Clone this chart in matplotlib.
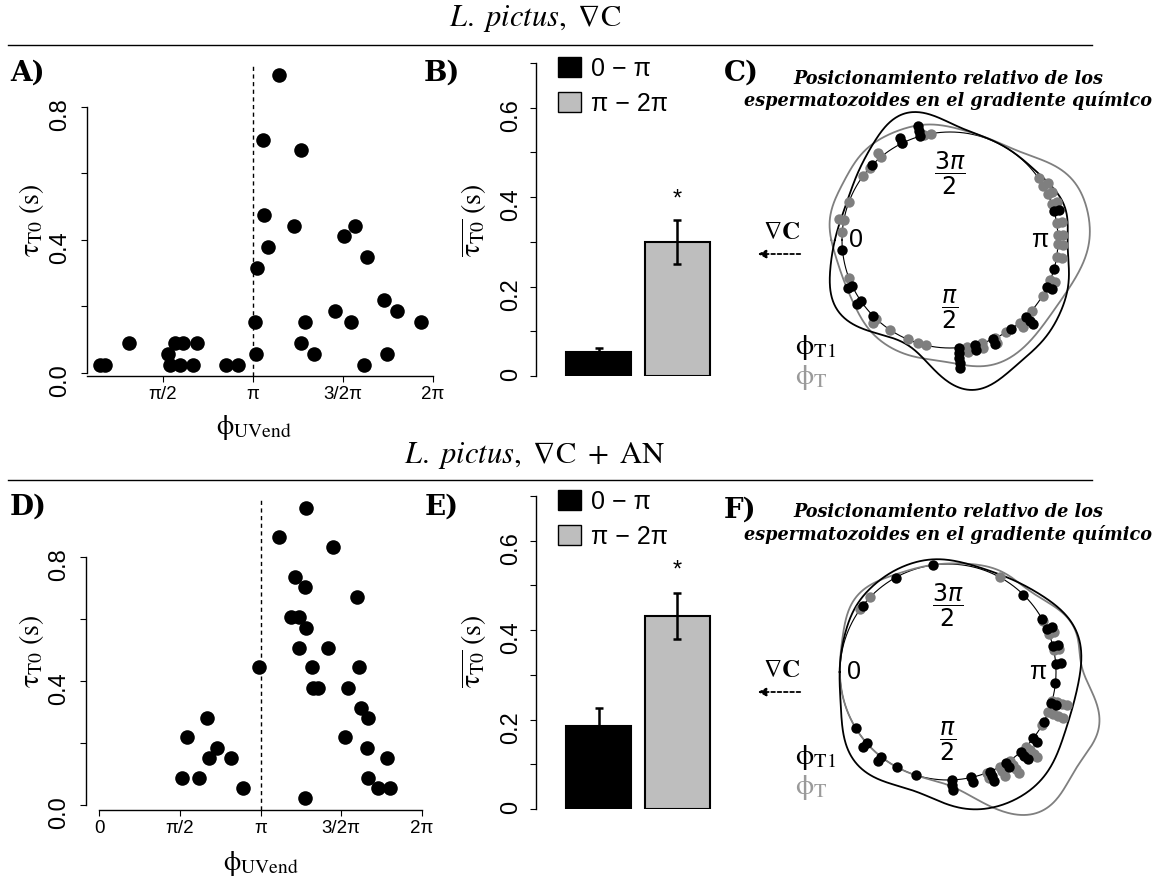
import numpy as np
import matplotlib
matplotlib.use("Agg")
import matplotlib.pyplot as plt
from matplotlib.lines import Line2D
from matplotlib.patches import Patch

plt.rcParams["font.family"] = ["Liberation Sans", "DejaVu Sans"]
plt.rcParams["mathtext.fontset"] = "stix"
plt.rcParams["axes.linewidth"] = 1.0

PI = np.pi

# --- panel A: L. pictus, gradient -------------------------------------
phi_a = [3.594, 3.316, 3.982, 3.327, 3.866, 3.408, 3.217, 4.724, 4.927, 5.130,
         5.420, 5.651, 6.080, 4.573, 4.851, 4.051, 3.976, 4.214, 5.083, 5.477,
         3.176, 3.194, 0.475, 0.551, 0.985, 1.664, 1.692, 1.779, 1.866, 1.924,
         2.087, 2.156, 2.678, 2.881]
tau_a = [0.897, 0.701, 0.671, 0.475, 0.443, 0.380, 0.315, 0.413, 0.443, 0.348,
         0.218, 0.186, 0.154, 0.186, 0.154, 0.154, 0.090, 0.057, 0.025, 0.057,
         0.154, 0.057, 0.025, 0.025, 0.090, 0.057, 0.025, 0.090, 0.025, 0.090,
         0.025, 0.090, 0.025, 0.025]

# --- panel D: L. pictus, gradient + AN ---------------------------------
phi_d = [4.029, 3.509, 4.561, 3.814, 4.009, 5.016, 3.730, 3.899, 4.022, 3.892,
         4.464, 3.119, 4.139, 5.061, 4.171, 4.269, 4.834, 5.094, 5.224, 4.789,
         5.211, 5.601, 5.224, 5.426, 5.653, 4.015, 2.092, 1.702, 2.300, 2.138,
         2.560, 1.624, 1.943, 2.807]
tau_d = [0.958, 0.864, 0.831, 0.735, 0.702, 0.670, 0.605, 0.605, 0.571, 0.508,
         0.508, 0.444, 0.444, 0.444, 0.379, 0.379, 0.379, 0.314, 0.282, 0.218,
         0.185, 0.153, 0.088, 0.056, 0.056, 0.024, 0.282, 0.218, 0.185, 0.153,
         0.153, 0.088, 0.088, 0.056]

# --- bars: mean tau_T0 per half circle -----------------------------------
bar_names = ["0 − π", "π − 2π"]
bar_b = [0.054, 0.300]
err_b = [0.009, 0.050]
bar_e = [0.186, 0.432]
err_e = [0.040, 0.052]

# --- circular panels: angle of each stack and number of stacked points ---
c_t1_ang = [4.99, 5.17, 5.52, 0.09, 0.44, 0.60, 0.78, 1.65, 1.80, 1.98, 2.17,
            2.35, 2.69, 2.87, 3.41]
c_t1_n = [3, 2, 1, 1, 2, 2, 1, 5, 2, 2, 1, 3, 2, 1, 2]
c_t_ang = [4.89, 4.96, 5.17, 5.40, 5.55, 5.65, 5.92, 6.10, 6.21, 0.36, 0.82,
           0.98, 1.17, 1.27, 1.35, 1.73, 1.87, 2.00, 2.12, 2.27, 2.43, 2.60,
           2.76, 2.98, 3.10, 3.19, 3.30, 3.48, 3.58, 3.67, 3.75]
c_t_n = [1, 1, 1, 2, 1, 1, 1, 2, 1, 1, 2, 1, 1, 1, 1, 2, 2, 2, 1, 2, 1, 1, 2,
         2, 2, 2, 2, 2, 2, 2, 1]

f_t1_ang = [4.85, 5.22, 5.62, 0.55, 0.72, 0.90, 1.08, 1.27, 1.61, 1.79, 1.97,
            2.14, 2.31, 2.48, 2.66, 2.85, 3.04, 3.22, 3.38, 3.55, 3.65, 3.94]
f_t1_n = [1, 1, 1, 1, 2, 2, 1, 1, 3, 2, 3, 2, 3, 2, 1, 2, 1, 2, 2, 2, 1, 1]
f_t_ang = [4.21, 5.52, 5.66, 3.63, 3.50, 3.35, 2.87, 2.76, 2.63, 2.38, 2.18,
           2.07, 1.94]
f_t_n = [1, 1, 1, 1, 2, 2, 4, 4, 1, 4, 4, 3, 2]

W, H = 1167, 882
GREY = "#7f7f7f"
fig = plt.figure(figsize=(W / 100, H / 100), dpi=100)


def px_rect(x0, y0, x1, y1):
    # pixel box (origin top-left) -> figure fraction rect
    return [x0 / W, 1 - y1 / H, (x1 - x0) / W, (y1 - y0) / H]


def ftext(x, y, s, **kw):
    fig.text(x / W, 1 - y / H, s, **kw)


def scatter_panel(box, phi, tau, xlim, ylim, xticks, xlabels):
    ax = fig.add_axes(px_rect(*box))
    ax.scatter(phi, tau, s=110, color="black", lw=0, zorder=3, clip_on=False)
    ax.axvline(PI, color="black", lw=1, ls=(0, (3, 2.5)))
    ax.set_xlim(xlim)
    ax.set_ylim(ylim)
    for s in ["top", "right"]:
        ax.spines[s].set_visible(False)
    ax.spines["left"].set_bounds(0, 0.8)
    ax.spines["bottom"].set_bounds(max(0, xlim[0]), 2 * PI)
    ax.set_yticks([0, 0.2, 0.4, 0.6, 0.8], ["0.0", "", "0.4", "", "0.8"],
                  rotation=90, fontsize=17)
    ax.set_xticks(xticks, xlabels, fontsize=13.5)
    ax.tick_params(axis="y", length=4.3, pad=7)
    ax.tick_params(axis="x", length=4.3, pad=3)
    return ax


def bar_panel(box, means, errs, star_y):
    ax = fig.add_axes(px_rect(*box))
    x = [0.7, 1.9]
    ax.bar(x, means, width=1.0, color=["black", "#bebebe"], edgecolor="black", lw=1.5)
    ax.errorbar(x, means, yerr=errs, fmt="none", ecolor="black", elinewidth=1.8,
                capsize=3, capthick=1.8)
    ax.text(x[1], star_y, "*", ha="center", va="center", fontsize=17)
    ax.set_xlim(-0.258, 2.553)
    ax.set_ylim(0, 0.7)
    for s in ["top", "right", "bottom"]:
        ax.spines[s].set_visible(False)
    ax.set_xticks([])
    ax.set_yticks(np.arange(0, 0.71, 0.1), ["0", "", "0.2", "", "0.4", "", "0.6", ""],
                  rotation=90, fontsize=17)
    ax.tick_params(axis="y", length=4.3, pad=6)
    handles = [Patch(facecolor="black", edgecolor="black"),
               Patch(facecolor="#bebebe", edgecolor="black")]
    ax.legend(handles, bar_names, loc="upper left", bbox_to_anchor=(0.12, 1.02),
              frameon=False, fontsize=18, handlelength=0.92, handleheight=0.85,
              handletextpad=0.4, labelspacing=0.45, borderaxespad=0, borderpad=0)
    return ax


def vm_kde(theta, data, kappa):
    data = np.asarray(data)[:, None]
    k = np.exp(kappa * np.cos(theta[None, :] - data)) / (2 * PI * np.i0(kappa))
    return k.mean(axis=0)


def circle_panel(center, t1_ang, t1_n, t_ang, t_n, kappa=20, shrink=1.15):
    cx, cy = center
    rad = 162
    ax = fig.add_axes(px_rect(cx - rad, cy - rad, cx + rad, cy + rad), projection="polar")
    ax.set_theta_zero_location("W")
    ax.set_theta_direction(1)
    ax.axis("off")
    ax.set_rlim(0, 1.5)
    th = np.linspace(0, 2 * PI, 721)
    ax.plot(th, np.ones_like(th), color="black", lw=0.8)
    sep = 0.048
    for angs, ns, col, z in [(t_ang, t_n, GREY, 3), (t1_ang, t1_n, "black", 4)]:
        for a, n in zip(angs, ns):
            ax.scatter([a] * n, 1 + sep * np.arange(n), s=56, color=col, lw=0,
                       zorder=z, clip_on=False)
    d_t = vm_kde(th, np.repeat(t_ang, t_n), kappa)
    d_t1 = vm_kde(th, np.repeat(t1_ang, t1_n), kappa)
    ax.plot(th, 1 + d_t / shrink, color=GREY, lw=1.3, clip_on=False)
    ax.plot(th, 1 + d_t1 / shrink, color="black", lw=1.3, clip_on=False)
    ax.text(0, 0.87, "0", ha="center", va="center", fontsize=18)
    ax.text(PI, 0.83, "π", ha="center", va="center", fontsize=18)
    ax.text(PI / 2, 0.64, r"$\dfrac{\pi}{2}$", ha="center", va="center", fontsize=17,
            math_fontfamily="dejavusans")
    ax.text(3 * PI / 2, 0.62, r"$\dfrac{3\pi}{2}$", ha="center", va="center",
            fontsize=17, math_fontfamily="dejavusans")
    return ax


# top row
scatter_panel((87, 63, 436, 376), phi_a, tau_a, (0.244, 6.336), (-0.009, 0.932),
              [PI / 2, PI, 3 * PI / 2, 2 * PI], ["π/2", "π", "3/2π", "2π"])
bar_panel((536, 63, 720, 376), bar_b, err_b, 0.394)
circle_panel((950, 240), c_t1_ang, c_t1_n, c_t_ang, c_t_n)

# bottom row
scatter_panel((86, 497, 435, 810), phi_d, tau_d, (-0.253, 6.536), (-0.016, 0.9935),
              [0, PI / 2, PI, 3 * PI / 2, 2 * PI], ["0", "π/2", "π", "3/2π", "2π"])
bar_panel((536, 496, 720, 809), bar_e, err_e, 0.533)
circle_panel((948, 672), f_t1_ang, f_t1_n, f_t_ang, f_t_n)

# row titles and rules
ftext(535, 18, r"$\mathit{L.\ pictus,}\ \nabla\mathrm{C}$", ha="center", va="center",
      fontsize=22, math_fontfamily="stix")
ftext(535, 455, r"$\mathit{L.\ pictus,}\ \nabla\mathrm{C}\ +\ \mathrm{AN}$", ha="center",
      va="center", fontsize=22, math_fontfamily="stix")
for yl in [45, 480]:
    fig.add_artist(Line2D([8 / W, 1092 / W], [1 - yl / H] * 2, color="black", lw=1))

# panel letters
serif_bold = dict(family="DejaVu Serif", weight="bold", fontsize=20, va="center", ha="center")
for lab, x, y in [("A)", 28, 73), ("B)", 442, 73), ("C)", 741, 73),
                  ("D)", 28, 507), ("E)", 442, 507), ("F)", 740, 510)]:
    ftext(x, y, lab, **serif_bold)

# axis labels
tau_lab = r"$\mathrm{\tau}_{\mathrm{T0}}\ \mathrm{(s)}$"
bar_lab = r"$\overline{\mathrm{\tau}_{\mathrm{T0}}}\ \mathrm{(s)}$"
phi_lab = r"$\mathrm{\phi}_{\mathrm{UVend}}$"
for y in [220, 651]:
    ftext(31, y, tau_lab, rotation=90, ha="center", va="center", fontsize=20)
    ftext(474, y, bar_lab, rotation=90, ha="center", va="center", fontsize=20)
ftext(254, 428, phi_lab, ha="center", va="center", fontsize=20)
ftext(261, 863, phi_lab, ha="center", va="center", fontsize=20)

# circular panel annotations
title_kw = dict(family="DejaVu Serif", weight="bold", style="italic", fontsize=12.7,
                ha="center", va="center")
for y0, yl, ya, yp in [(79, 232, 254, 348), (512, 670, 692, 757)]:
    ftext(948, y0, "Posicionamiento relativo de los", **title_kw)
    ftext(948, y0 + 22, "espermatozoides en el gradiente químico", **title_kw)
    ftext(782, yl, r"$\nabla\mathbf{C}$", ha="center", va="center", fontsize=18)
    fig.add_artist(plt.Annotation("", xy=(755 / W, 1 - ya / H), xytext=(803 / W, 1 - ya / H),
                                  xycoords="figure fraction", textcoords="figure fraction",
                                  arrowprops=dict(arrowstyle="-|>", ls=(0, (2, 1.5)),
                                                  color="black", lw=1.3,
                                                  mutation_scale=12)))
    ftext(795, yp, r"$\mathrm{\phi}_{\mathrm{T1}}$", ha="left", va="center", fontsize=21)
    ftext(795, yp + 30, r"$\mathrm{\phi}_{\mathrm{T}}$", ha="left", va="center", fontsize=21,
          color="#9a9a9a")

fig.savefig("out.png", dpi=100)
